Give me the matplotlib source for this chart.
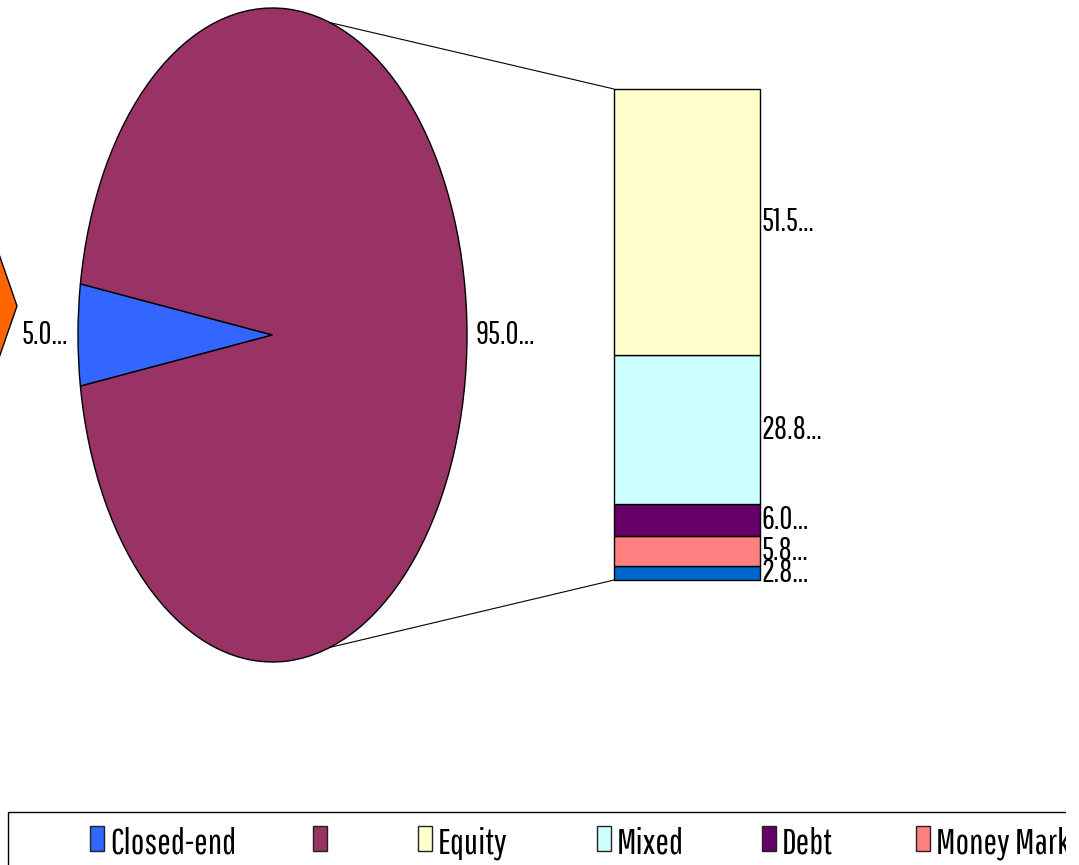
import numpy as np
import matplotlib
matplotlib.use("Agg")
import matplotlib.pyplot as plt
from matplotlib.patches import Polygon, Rectangle, ConnectionPatch
from matplotlib.transforms import Bbox

# fund categories: the pie splits closed-end vs. the rest, the bar breaks the rest down
pie_labels = ["Closed-end", ""]
pie_values = [5.0, 95.0]
pie_colors = ["#3366FF", "#993366"]

bar_labels = ["Other", "Money Market", "Debt", "Mixed", "Equity"]   # bottom -> top
bar_values = [2.8, 5.8, 6.0, 28.8, 51.5]
bar_colors = ["#0066CC", "#FF8080", "#660066", "#CCFFFF", "#FFFFCC"]

W, H = 1079, 865
plt.rcParams["font.family"] = ["Pathway Gothic One", "DejaVu Sans"]
LABEL_FS = 23
LEGEND_FS = 26


def px_rect(x0, y0, x1, y1):
    return [x0 / W, 1 - y1 / H, (x1 - x0) / W, (y1 - y0) / H]


def px_pt(x, y):
    return (x / W, 1 - y / H)


fig = plt.figure(figsize=(W / 100, H / 100), dpi=100)

# stretched pie
ax_pie = fig.add_axes(px_rect(78, 8, 467, 662))
start = 180 - pie_values[0] / sum(pie_values) * 360 / 2
wedges, _ = ax_pie.pie(pie_values, colors=pie_colors, startangle=start,
                       wedgeprops=dict(edgecolor="black", linewidth=1, clip_on=False))
ax_pie.set_aspect("auto")
ax_pie.set_xlim(-1, 1)
ax_pie.set_ylim(-1, 1)
ax_pie.axis("off")
ax_pie.text(-1.05, 0, f"{pie_values[0]:.1f}...", ha="right", va="center", fontsize=LABEL_FS)
ax_pie.text(1.045, 0, f"{pie_values[1]:.1f}...", ha="left", va="center", fontsize=LABEL_FS)

# stacked bar
total = sum(bar_values)
ax_bar = fig.add_axes(px_rect(614, 89, 760, 580))
bottom = 0
for v, c in zip(bar_values, bar_colors):
    ax_bar.bar(0.5, v, width=1, bottom=bottom, color=c, edgecolor="black",
               linewidth=1, clip_on=False)
    ax_bar.text(1.01, bottom + v / 2, f"{v:.1f}...", ha="left", va="center", fontsize=LABEL_FS)
    bottom += v
ax_bar.set_xlim(0, 1)
ax_bar.set_ylim(0, total)
ax_bar.axis("off")

# connector lines from pie to bar
theta = np.deg2rad(72.8)
for sgn, yb in [(1, total), (-1, 0)]:
    con = ConnectionPatch(xyA=(np.cos(theta), sgn * np.sin(theta)), coordsA=ax_pie.transData,
                          xyB=(0, yb), coordsB=ax_bar.transData, color="black", linewidth=0.8)
    fig.add_artist(con)

# orange marker at the left edge
verts = [px_pt(17, 306), px_pt(-17, 208), px_pt(-60, 208), px_pt(-60, 404), px_pt(-17, 404)]
fig.add_artist(Polygon(verts, closed=True, transform=fig.transFigure,
                       facecolor="#FF6600", edgecolor="black", linewidth=1))

# legend box along the bottom, cut off at the right side of the chart area
clip = Bbox.from_extents(0, 0, 1066, H)
frame = Rectangle(px_pt(8, 900), 1200 / W, 88 / H, transform=fig.transFigure,
                  facecolor="white", edgecolor="black", linewidth=1)
fig.add_artist(frame)
frame.set_clip_box(clip)
leg_labels = pie_labels + bar_labels[::-1]
leg_colors = pie_colors + bar_colors[::-1]
leg_x = [90, 313, 418, 597, 762, 916, 1100]
for x, lab, col in zip(leg_x, leg_labels, leg_colors):
    sq = Rectangle(px_pt(x, 851), 14 / W, 25 / H, transform=fig.transFigure,
                   facecolor=col, edgecolor="#222222", linewidth=1)
    fig.add_artist(sq)
    sq.set_clip_box(clip)
    t = fig.text((x + 20) / W, 1 - 843 / H, lab, ha="left", va="center", fontsize=LEGEND_FS)
    t.set_clip_box(clip)
    t.set_clip_on(True)

fig.savefig("out.png", dpi=100)
